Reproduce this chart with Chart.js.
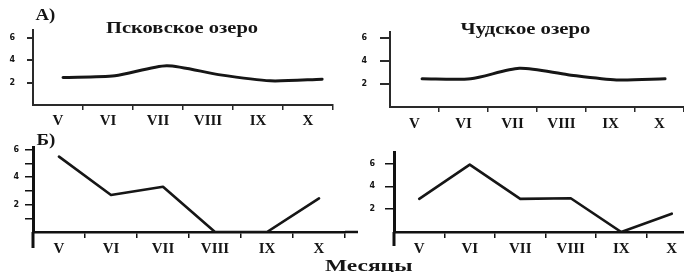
<!DOCTYPE html>
<html>
<head>
<meta charset="utf-8">
<script src="https://cdn.jsdelivr.net/npm/chart.js@4.4.1/dist/chart.umd.min.js"></script>
<style>
  html, body { margin:0; padding:0; background:#fff; }
  body { width:684px; height:272px; position:relative; overflow:hidden; }
  .box { position:absolute; }
  .txt { position:absolute; font-family:"Liberation Serif", "DejaVu Serif", serif; font-weight:bold; color:#151515; white-space:nowrap; transform-origin:center center; line-height:1; }
</style>
</head>
<body>
<div class="box" style="left:0;top:0;width:342px;height:136px"><canvas id="cA1" width="342" height="136"></canvas></div>
<div class="box" style="left:342px;top:0;width:342px;height:136px"><canvas id="cA2" width="342" height="136"></canvas></div>
<div class="box" style="left:0;top:136px;width:360px;height:136px"><canvas id="cB1" width="360" height="136"></canvas></div>
<div class="box" style="left:342px;top:136px;width:360px;height:136px"><canvas id="cB2" width="360" height="136"></canvas></div>

<div class="txt" id="tA" data-cx="45" data-cy="15" data-w="20" style="font-size:16px">А)</div>
<div class="txt" id="tB" data-cx="46" data-cy="140" data-w="19" style="font-size:16px">Б)</div>
<div class="txt" id="t1" data-cx="182" data-cy="27" data-w="152" style="font-size:17px">Псковское озеро</div>
<div class="txt" id="t2" data-cx="525" data-cy="28" data-w="130" style="font-size:17px">Чудское озеро</div>
<div class="txt" id="t3" data-cx="368" data-cy="265" data-w="87" style="font-size:17px">Месяцы</div>

<script>
// ---- data ----
const months = ['V', 'VI', 'VII', 'VIII', 'IX', 'X'];
const pskovA = [2.45, 2.6, 3.5, 2.7, 2.15, 2.3];
const chudA  = [2.45, 2.45, 3.35, 2.8, 2.35, 2.45];
const pskovB = [5.5, 2.7, 3.3, 0, 0, 2.45];
const chudB  = [2.9, 5.9, 2.9, 2.95, 0, 1.6];
const yLabelValues = [2, 4, 6];

// ---- text fitting ----
document.querySelectorAll('.txt').forEach(el => {
  const w = el.offsetWidth, h = el.offsetHeight;
  const tw = +el.dataset.w;
  el.style.left = (+el.dataset.cx - w / 2) + 'px';
  el.style.top = (+el.dataset.cy - h / 2) + 'px';
  el.style.transform = 'scaleX(' + (tw / w) + ')';
});

const extendAxes = {
  id: 'extendAxes',
  afterDraw(chart, args, opts) {
    if (!opts || (!opts.down && !opts.right)) return;
    const { ctx, chartArea } = chart;
    ctx.save();
    ctx.strokeStyle = opts.color;
    ctx.lineCap = 'butt';
    if (opts.down) {
      ctx.lineWidth = opts.yWidth;
      ctx.beginPath();
      ctx.moveTo(chartArea.left, chartArea.bottom);
      ctx.lineTo(chartArea.left, chartArea.bottom + opts.down);
      ctx.stroke();
    }
    if (opts.right) {
      ctx.lineWidth = opts.xWidth;
      ctx.beginPath();
      ctx.moveTo(chartArea.right, chartArea.bottom);
      ctx.lineTo(chartArea.right + opts.right, chartArea.bottom);
      ctx.stroke();
    }
    ctx.restore();
  }
};

function makeChart(id, values, c) {
  const lineColor = '#161616';
  return new Chart(document.getElementById(id), {
    type: 'line',
    data: {
      datasets: [{
        data: values.map((v, i) => ({ x: i, y: v })),
        xAxisID: 'xd', yAxisID: 'y',
        borderColor: lineColor, borderWidth: c.lineWidth,
        pointRadius: 0, tension: c.tension, fill: false,
        borderCapStyle: 'round', borderJoinStyle: 'round'
      }]
    },
    plugins: [extendAxes],
    options: {
      responsive: false, animation: false, devicePixelRatio: 1,
      layout: { padding: { top: c.padTop, right: c.padRight, left: 0, bottom: 0 } },
      plugins: {
        legend: { display: false }, tooltip: { enabled: false }, title: { display: false },
        extendAxes: { down: c.extDown || 0, right: c.extRight || 0, color: c.axisColor, xWidth: c.xBorder, yWidth: c.yBorder }
      },
      scales: {
        x: {
          type: 'category', labels: months, offset: true, position: 'bottom',
          grid: {
            offset: true, drawOnChartArea: false, drawTicks: true, tickLength: c.xTickLen,
            color: ctx => (ctx.index === 0 ? 'rgba(0,0,0,0)' : c.axisColor), lineWidth: c.xTickWidth
          },
          border: { display: true, color: c.axisColor, width: c.xBorder },
          ticks: {
            font: { family: '"Liberation Serif", "DejaVu Serif", serif', weight: 'bold', size: 15 },
            color: '#151515', padding: c.xPad, maxRotation: 0, autoSkip: false
          },
          afterFit(s) { s.height = c.xHeight; }
        },
        xd: { type: 'linear', display: false, min: c.xMin, max: c.xMax },
        y: {
          type: 'linear', position: 'left', min: 0, max: c.yMax,
          ticks: {
            stepSize: 1, includeBounds: false,
            callback: v => (yLabelValues.includes(v) ? String(v) : ''),
            font: { family: '"DejaVu Sans", sans-serif', weight: 'bold', size: 8 },
            color: '#151515', padding: c.yPad
          },
          grid: {
            drawOnChartArea: false, drawTicks: true, tickLength: c.yTickLen,
            color: ctx => (ctx.tick && ctx.tick.value === 0 ? 'rgba(0,0,0,0)' : c.axisColor),
            lineWidth: c.yTickWidth
          },
          border: { display: true, color: c.axisColor, width: c.yBorder },
          afterFit(s) { s.width = c.yWidth; }
        }
      }
    }
  });
}

makeChart('cA1', pskovA, {
  lineWidth: 3, tension: 0.25, padTop: 30, padRight: 9, xHeight: 31, yWidth: 33,
  yMax: 6.67, xMin: -0.58, xMax: 5.21, xTickLen: 5, xPad: 2, yTickLen: 6, yPad: 12,
  axisColor: '#2a2a2a', xBorder: 2, yBorder: 2, xTickWidth: 1.5, yTickWidth: 2
});
makeChart('cA2', chudA, {
  lineWidth: 3, tension: 0.25, padTop: 32, padRight: 0, xHeight: 29, yWidth: 48,
  yMax: 6.5, xMin: -0.66, xMax: 5.39, xTickLen: 5, xPad: 3, yTickLen: 10, yPad: 13,
  axisColor: '#2a2a2a', xBorder: 2, yBorder: 2, xTickWidth: 1.5, yTickWidth: 2
});
makeChart('cB1', pskovB, {
  lineWidth: 2.6, tension: 0, padTop: 11, padRight: 15, xHeight: 40, yWidth: 33,
  yMax: 6.2, xMin: -0.5, xMax: 5.5, xTickLen: 6, xPad: 2, yTickLen: 8, yPad: 6,
  axisColor: '#111', xBorder: 2.5, yBorder: 3, xTickWidth: 1.5, yTickWidth: 1.5,
  extDown: 16, extRight: 13
});
makeChart('cB2', chudB, {
  lineWidth: 2.6, tension: 0, padTop: 16, padRight: 5, xHeight: 40, yWidth: 52,
  yMax: 7.0, xMin: -0.5, xMax: 5.5, xTickLen: 6, xPad: 2, yTickLen: 9, yPad: 10,
  axisColor: '#111', xBorder: 2.5, yBorder: 3, xTickWidth: 1.5, yTickWidth: 1.5,
  extDown: 14
});
</script>
</body>
</html>
